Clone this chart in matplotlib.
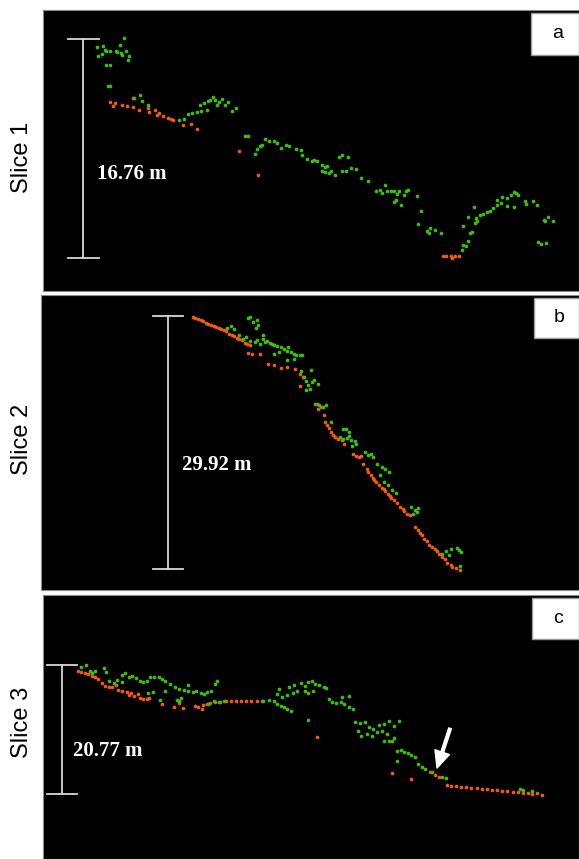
import matplotlib
matplotlib.use("Agg")
import matplotlib.pyplot as plt
from matplotlib.patches import Rectangle

# ---------------- data (image units, y grows downward) ----------------
# Slice 1
s1_green_x = [167,183,188,193,205,220,233,225,235,240,250,245,260,255,168,180,193,205,197,203,
              275,290,298,315,405,418,430,443,458,468,465,478,488,495,502,510,515,520,530,537,547,558,570,485,
              595,605,626,632,640,645,655,665,680,690,700,715,725,745,760,763,778,790,798,805,820,828,835,820,
              830,840,848,857,870,880,895,878,890,905,918,935,955,978,988,995,1005,1010,1022,1030,1040,1045,
              1058,1065,1070,1030,1035,1050,1098,1108,1100,1125,1133,1135,1148,1168,
              1228,1232,1245,1240,1230,1245,1250,1258,1262,1265,1268,1270,1280,1290,1300,1310,1318,1330,1330,
              1340,1345,1358,1358,1370,1380,1385,1390,1380,1412,1415,1433,1445,1450,1458,1472,1465,1470,1478,1492]
s1_green_y = [117,115,125,130,130,128,111,131,135,141,128,91,145,155,145,137,170,172,235,233,
              270,260,278,290,335,333,318,315,312,308,290,285,280,275,268,275,290,282,272,290,283,310,300,305,
              385,383,438,422,415,410,392,398,400,405,420,410,415,422,425,440,452,460,455,458,470,478,475,488,
              492,495,490,502,448,442,447,488,490,480,482,510,518,550,545,555,530,548,548,550,557,550,
              560,548,545,582,576,590,563,610,648,668,675,660,665,675,
              725,710,698,715,655,628,675,673,598,645,630,640,622,618,612,608,600,590,575,
              585,568,570,595,562,552,555,562,598,580,588,578,590,702,707,705,635,640,628,640]
s1_orange_x = [205,213,217,238,252,270,272,287,315,318,336,340,346,357,373,380,388,417,438,456,
               578,633,1172,1180,1195,1200,1208,1218]
s1_orange_y = [282,293,285,290,295,270,297,305,300,312,305,320,315,323,330,332,335,350,347,362,
               428,502,743,743,745,750,745,743]

# Slice 2
s2_green_x = [545,555,565,578,590,600,605,612,620,632,627,635,612,625,632,640,648,655,660,668,675,682,690,650,
              680,695,700,710,718,722,730,738,745,755,762,720,740,758,788,768,775,780,790,798,808,785,775,
              800,812,822,832,848,882,890,898,872,882,892,900,905,915,920,908,945,955,962,968,980,995,1005,
              1015,990,1000,1012,1025,1035,1080,1092,1098,1100,1085,1170,1180,1190,1195,1212,1218,1225,1222]
s2_green_y = [108,103,110,128,140,135,77,75,90,85,108,100,148,150,145,155,140,150,148,152,155,160,162,128,
              185,180,165,172,178,165,180,185,190,188,190,205,200,237,235,255,268,278,270,265,275,292,295,
              335,340,345,338,390,412,410,420,435,440,438,432,445,448,455,462,480,490,485,495,515,525,530,
              540,550,570,580,595,602,645,655,660,648,665,785,778,790,772,768,775,780,822]
s2_orange_x = [445,452,460,468,475,483,490,498,505,512,520,528,535,542,550,558,565,572,580,588,595,603,610,
               605,618,640,662,682,700,718,742,755,757,765,
               805,808,818,825,830,835,840,848,852,858,866,880,885,912,920,928,935,940,950,955,962,968,972,
               978,985,995,1000,1005,1012,1018,1022,1030,1040,1048,1055,1060,1068,1075,1092,1100,1105,1112,
               1118,1125,1132,1140,1148,1155,1160,1170,1178,1185,1195,1200,1210,1222]
s2_orange_y = [75,78,82,85,88,92,95,98,102,105,108,110,115,118,125,128,133,137,140,145,152,157,160,
               182,185,187,215,218,228,225,232,245,282,255,
               335,350,345,370,390,400,408,420,428,435,440,443,455,485,492,495,492,515,530,540,548,558,565,
               570,578,588,592,598,605,612,618,625,632,645,650,658,665,670,705,715,722,730,
               740,748,758,765,772,778,785,795,800,812,818,825,828,835]

# Slice 3
s3_green_x = [118,133,145,152,160,185,193,200,225,238,248,258,268,278,290,300,312,320,332,345,355,365,378,392,
              405,418,430,445,455,468,478,485,315,330,350,400,405,410,365,432,510,515,498,240,215,490,505,520,
              535,650,665,680,690,700,710,720,730,690,695,705,725,740,748,760,770,780,790,800,812,825,832,770,
              780,795,720,735,840,850,862,875,885,900,910,880,900,780,915,930,945,958,970,985,1000,1015,1030,
              1045,925,935,950,965,980,995,1010,1015,1025,1030,1000,1040,1050,1060,1070,1080,1090,1040,1100,
              1110,1120,1140,1170,1180,1395,1405,1430]
s3_green_y = [218,213,230,238,232,222,233,262,258,242,238,248,245,252,260,265,262,250,248,250,255,260,270,278,
              285,288,290,293,292,296,300,295,298,295,318,318,322,312,292,272,270,262,290,265,268,330,322,325,
              322,320,318,322,330,335,340,345,352,300,285,308,278,272,290,268,275,265,260,270,272,278,282,290,
              296,292,302,298,315,325,328,325,330,338,345,308,305,378,385,388,385,398,405,392,390,380,395,
              382,410,425,420,425,415,410,420,440,440,432,440,470,468,475,478,482,490,500,510,
              518,525,535,548,552,585,588,592]
s3_orange_x = [110,120,130,140,150,160,170,180,190,200,210,220,228,240,252,258,265,275,285,290,300,310,318,
               355,390,405,415,450,460,470,475,485,495,510,525,540,555,570,585,600,615,630,645,
               805,1025,1078,1135,1150,1160,
               1185,1195,1210,1225,1240,1255,1270,1285,1300,1315,1330,1345,1360,1375,1390,1405,1420,1432,1445,1460]
s3_orange_y = [232,235,238,240,245,248,255,268,275,280,278,272,288,290,295,302,298,305,300,312,315,315,312,
               330,340,328,342,335,340,345,333,330,328,325,325,322,320,320,322,322,322,322,320,
               428,538,555,535,543,548,
               572,575,577,578,580,581,582,584,586,588,589,591,592,594,595,597,598,600,598,603]

slice_names = ["Slice 1", "Slice 2", "Slice 3"]
panel_letters = ["a", "b", "c"]
bar_labels = ["16.76 m", "29.92 m", "20.77 m"]

# ---------------- layout ----------------
W, H = 579, 859
fig = plt.figure(figsize=(W / 100, H / 100), dpi=100)
fig.patch.set_facecolor("white")

GREEN = "#3cc00a"
ORANGE = "#f45a10"
BAR = "#d8d8d8"

# panel rects in pixels: (left, top, right, bottom), and data limits (x0, x1, ytop, ybottom)
panels = [
    dict(px=(42.7, 9.7, 579, 290.7), lim=(8, 1568, 5, 848),
         gx=s1_green_x, gy=s1_green_y, ox=s1_orange_x, oy=s1_orange_y,
         bar=(126, 92, 750, 82, 172), txt=(165, 497), box=(531, 13, 579, 55), sy=157),
    dict(px=(41, 294.7, 579, 589.7), lim=(3, 1568, 8, 893),
         gx=s2_green_x, gy=s2_green_y, ox=s2_orange_x, oy=s2_orange_y,
         bar=(372, 73, 830, 330, 417), txt=(412, 520), box=(534, 298, 579, 338), sy=439),
    dict(px=(42.7, 595, 579, 859), lim=(8, 1568, 3, 795),
         gx=s3_green_x, gy=s3_green_y, ox=s3_orange_x, oy=s3_orange_y,
         bar=(65, 213, 600, 21, 108), txt=(97, 470), box=(532, 598, 579, 639), sy=722),
]

for i, p in enumerate(panels):
    l, t, r, b = p["px"]
    ax = fig.add_axes([l / W, 1 - b / H, (r - l) / W, (b - t) / H])
    ax.set_facecolor("black")
    x0, x1, yt, yb = p["lim"]
    ax.set_xlim(x0, x1)
    ax.set_ylim(yb, yt)
    ax.set_xticks([])
    ax.set_yticks([])
    for s in ax.spines.values():
        s.set_color("#8a8a8a")
        s.set_linewidth(0.8)
    ax.scatter(p["ox"], p["oy"], s=7, c=ORANGE, linewidths=0, zorder=3)
    ax.scatter(p["gx"], p["gy"], s=7, c=GREEN, linewidths=0, zorder=3)
    bx, btop, bbot, c0, c1 = p["bar"]
    ax.plot([bx, bx], [btop, bbot], color=BAR, lw=1.3, zorder=2)
    ax.plot([c0, c1], [btop, btop], color=BAR, lw=1.3, zorder=2)
    ax.plot([c0, c1], [bbot, bbot], color=BAR, lw=1.3, zorder=2)
    ax.text(p["txt"][0], p["txt"][1], bar_labels[i], color="white", fontsize=15,
            fontweight="bold", family="Liberation Serif", ha="left", va="center", zorder=4)
    # letter box
    bl, bt, br, bb = p["box"]
    fig.patches.append(Rectangle((bl / W, 1 - bb / H), (br - bl) / W, (bb - bt) / H,
                                 transform=fig.transFigure, facecolor="white",
                                 edgecolor="#9a9a9a", linewidth=1.0, zorder=5))
    fig.text((bl + br) / 2 / W + 0.004, 1 - (bt + bb) / 2 / H, panel_letters[i],
             fontsize=14, family="Liberation Sans", ha="center", va="center", zorder=6)
    fig.text(22 / W, 1 - p["sy"] / H, slice_names[i], rotation=90, fontsize=17,
             family="Liberation Sans", ha="center", va="center")
    if i == 2:
        ax.annotate("", xy=(1155, 522), xytext=(1193, 403),
                    arrowprops=dict(facecolor="white", edgecolor="white", width=2.0,
                                    headwidth=11, headlength=12, shrink=0), zorder=6)

fig.savefig("out.png", dpi=100, facecolor="white")
